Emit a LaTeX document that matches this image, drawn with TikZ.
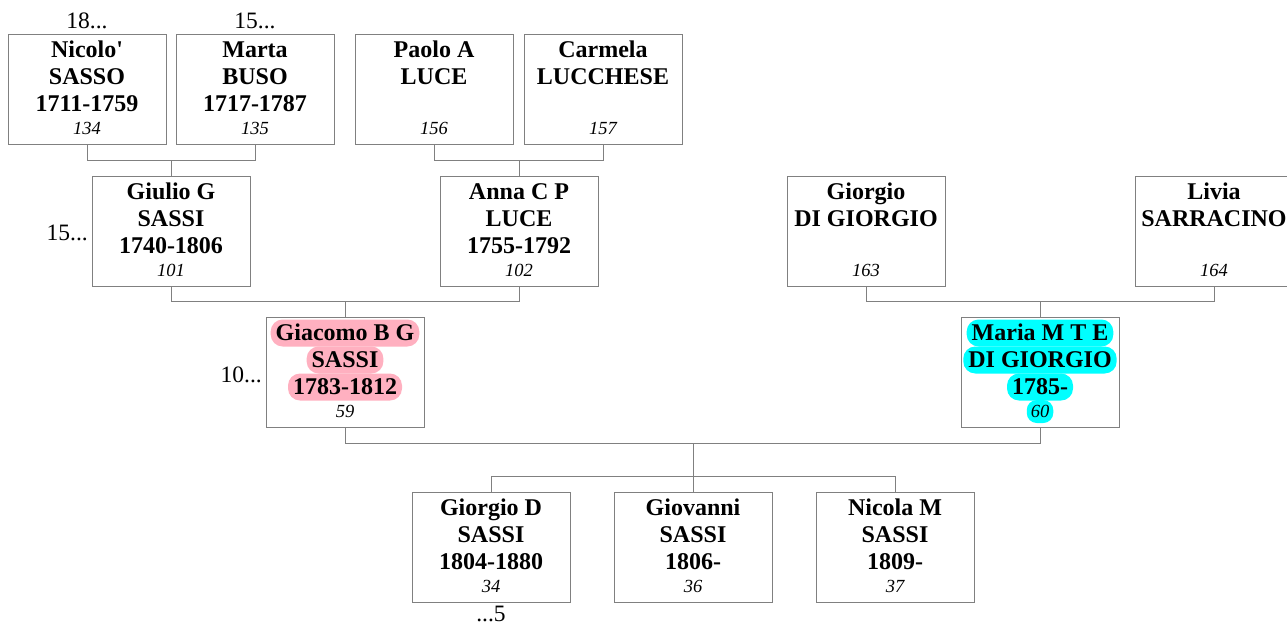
\documentclass[tikz,border=0pt]{standalone}
\usepackage{fontspec}
\setmainfont{Liberation Serif}
\usetikzlibrary{calc}
\definecolor{boxgray}{HTML}{808080}
\definecolor{hlpink}{HTML}{FFB0C0}
\definecolor{hlcyan}{HTML}{00FFFF}
\tikzset{
  box/.style={draw=boxgray, line width=1pt, minimum width=158pt, minimum height=110pt, inner sep=0pt},
  conn/.style={draw=boxgray, line width=1pt},
  ln/.style={anchor=base, font=\fontsize{24}{27}\selectfont\bfseries, inner xsep=5pt, inner ysep=0pt, text height=21pt, text depth=6pt, rounded corners=12pt},
  num/.style={anchor=base, font=\fontsize{18.5}{21}\selectfont\itshape, inner xsep=4pt, inner ysep=0pt, text height=17pt, text depth=6pt, rounded corners=10pt},
  side/.style={font=\fontsize{23.5}{27}\selectfont, inner sep=0pt, anchor=base},
  pinkhl/.style={fill=hlpink},
  cyanhl/.style={fill=hlcyan},
  nohl/.style={}
}
% #1 name, #2 centre x, #3 top y, #4-#6 lines, #7 number, #8 line style, #9 number style
\newcommand\pers[9]{%
  \node[box] (#1) at (#2,#3+55) {};
  \node[ln,#8] (#1-a) at (#2,#3+23.5) {#4};
  \node[ln,#8] (#1-b) at (#2,#3+50.5) {#5};
  \node[ln,#8] (#1-c) at (#2,#3+77.5) {#6};
  \node[num,#9] (#1-n) at (#2,#3+100) {#7};
}
\begin{document}
\begin{tikzpicture}[x=1pt,y=-1pt]
\useasboundingbox (0,0) rectangle (1287,624);
\clip (0,0) rectangle (1287,624);
\fill[white] (0,0) rectangle (1287,624);
% generation 1
\pers{nic}{87}{34}{Nicolo\textquotesingle}{SASSO}{1711-1759}{134}{nohl}{nohl}
\pers{mar}{255}{34}{Marta}{BUSO}{1717-1787}{135}{nohl}{nohl}
\pers{pao}{434}{34}{Paolo A}{LUCE}{}{156}{nohl}{nohl}
\pers{car}{603}{34}{Carmela}{LUCCHESE}{}{157}{nohl}{nohl}
% generation 2
\pers{giu}{171}{176}{Giulio G}{SASSI}{1740-1806}{101}{nohl}{nohl}
\pers{ann}{519}{176}{Anna C P}{LUCE}{1755-1792}{102}{nohl}{nohl}
\pers{gdg}{866}{176}{Giorgio}{DI GIORGIO}{}{163}{nohl}{nohl}
\pers{liv}{1214}{176}{Livia}{SARRACINO}{}{164}{nohl}{nohl}
% generation 3
\pers{gia}{345}{317}{Giacomo B G}{SASSI}{1783-1812}{59}{pinkhl}{nohl}
\pers{mmt}{1040}{317}{Maria M T E}{DI GIORGIO}{1785-}{60}{cyanhl}{cyanhl}
% generation 4
\pers{gdz}{491}{492}{Giorgio D}{SASSI}{1804-1880}{34}{nohl}{nohl}
\pers{gvn}{693}{492}{Giovanni}{SASSI}{1806-}{36}{nohl}{nohl}
\pers{ncl}{895}{492}{Nicola M}{SASSI}{1809-}{37}{nohl}{nohl}
% side labels
\node[side] (l18) at (87,28) {18...};
\node[side] (l15a) at (255,28) {15...};
\node[side, anchor=base east] (l15b) at (88,240) {15...};
\node[side, anchor=base east] (l10) at (262,382) {10...};
\node[side] (l5) at (491,621) {...5};
% connectors
\coordinate (j1) at ($(nic.south)!0.5!(mar.south)+(0,16)$);
\draw[conn] (nic.south) -- ++(0,16) -| (mar.south);
\draw[conn] (giu.north) -- (giu.north |- j1);
\draw[conn] (pao.south) -- ++(0,16) -| (car.south);
\draw[conn] (ann.north) -- (ann.north |- j1);
\coordinate (j2) at ($(giu.south)+(0,15)$);
\draw[conn] (giu.south) -- (j2) -| (ann.south);
\draw[conn] (gia.north) -- (gia.north |- j2);
\draw[conn] (gdg.south) -- ++(0,15) -| (liv.south);
\draw[conn] (mmt.north) -- (mmt.north |- j2);
\coordinate (j3) at ($(gia.south)+(0,16)$);
\coordinate (j4) at ($(gvn.north)+(0,-15)$);
\draw[conn] (gia.south) -- (j3) -| (mmt.south);
\draw[conn] (gvn.north) -- (gvn.north |- j3);
\draw[conn] (gdz.north) -- (gdz.north |- j4) -| (ncl.north);
\end{tikzpicture}
\end{document}
